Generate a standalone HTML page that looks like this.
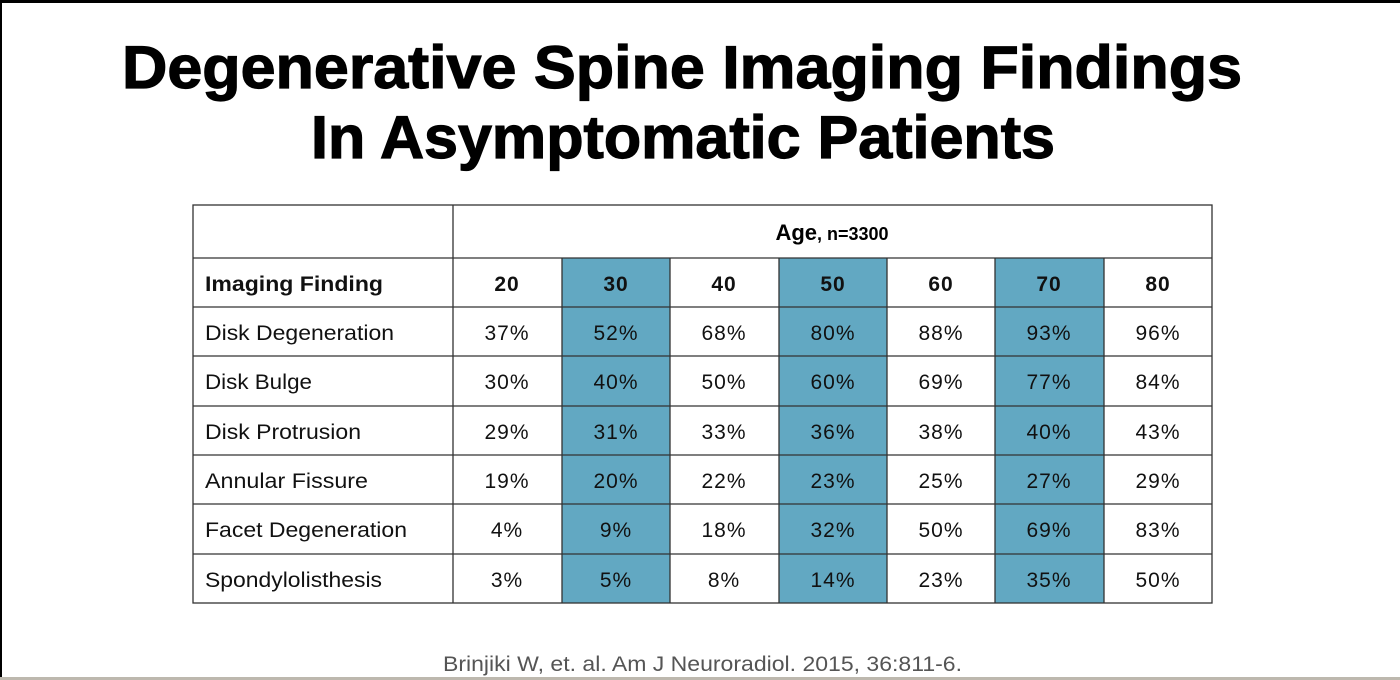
<!DOCTYPE html>
<html><head><meta charset="utf-8"><style>
html,body{margin:0;padding:0;background:#fff;}
svg{display:block;}
</style></head><body>
<svg width="1400" height="680" viewBox="0 0 1400 680" xmlns="http://www.w3.org/2000/svg" font-family="Liberation Sans, Arial, sans-serif">
<rect x="0" y="0" width="1400" height="680" fill="#fff"/>
<rect x="0" y="0" width="1400" height="3" fill="#000"/>
<rect x="0" y="0" width="2" height="680" fill="#000"/>
<rect x="0" y="677" width="1400" height="3" fill="#bdb8ae"/>
<text x="122" y="88" font-size="60" font-weight="bold" stroke="#000" stroke-width="1.2" textLength="1120" lengthAdjust="spacingAndGlyphs">Degenerative Spine Imaging Findings</text>
<text x="311" y="158" font-size="60" font-weight="bold" stroke="#000" stroke-width="1.2" textLength="744" lengthAdjust="spacingAndGlyphs">In Asymptomatic Patients</text>
<g fill="#62a8c2">
<rect x="562" y="258" width="108" height="345"/>
<rect x="779" y="258" width="108" height="345"/>
<rect x="995" y="258" width="109" height="345"/>
</g>
<g stroke="#333" stroke-width="1.3" fill="none">
<rect x="193" y="205" width="1019" height="398"/>
<line x1="193" y1="258" x2="1212" y2="258"/>
<line x1="193" y1="307" x2="1212" y2="307"/>
<line x1="193" y1="356" x2="1212" y2="356"/>
<line x1="193" y1="406" x2="1212" y2="406"/>
<line x1="193" y1="455" x2="1212" y2="455"/>
<line x1="193" y1="504" x2="1212" y2="504"/>
<line x1="193" y1="554" x2="1212" y2="554"/>
<line x1="453" y1="205" x2="453" y2="603"/>
<line x1="562" y1="258" x2="562" y2="603"/>
<line x1="670" y1="258" x2="670" y2="603"/>
<line x1="779" y1="258" x2="779" y2="603"/>
<line x1="887" y1="258" x2="887" y2="603"/>
<line x1="995" y1="258" x2="995" y2="603"/>
<line x1="1104" y1="258" x2="1104" y2="603"/>
</g>
<text x="832" y="240" font-size="22" font-weight="bold" text-anchor="middle">Age<tspan font-size="18">, n=3300</tspan></text>
<g font-size="21" fill="#111">
<text x="205" y="291" font-weight="bold" textLength="178" lengthAdjust="spacingAndGlyphs">Imaging Finding</text>
<text x="205" y="340" textLength="189" lengthAdjust="spacingAndGlyphs">Disk Degeneration</text>
<text x="205" y="389" textLength="107" lengthAdjust="spacingAndGlyphs">Disk Bulge</text>
<text x="205" y="439" textLength="156" lengthAdjust="spacingAndGlyphs">Disk Protrusion</text>
<text x="205" y="488" textLength="163" lengthAdjust="spacingAndGlyphs">Annular  Fissure</text>
<text x="205" y="537" textLength="202" lengthAdjust="spacingAndGlyphs">Facet Degeneration</text>
<text x="205" y="587" textLength="177" lengthAdjust="spacingAndGlyphs">Spondylolisthesis</text>
</g>
<g font-size="21" fill="#111" text-anchor="middle" letter-spacing="1">
<g font-weight="bold">
<text x="507" y="291">20</text><text x="616" y="291">30</text><text x="724" y="291">40</text><text x="833" y="291">50</text><text x="941" y="291">60</text><text x="1049" y="291">70</text><text x="1158" y="291">80</text>
</g>
<text x="507" y="340">37%</text><text x="616" y="340">52%</text><text x="724" y="340">68%</text><text x="833" y="340">80%</text><text x="941" y="340">88%</text><text x="1049" y="340">93%</text><text x="1158" y="340">96%</text>
<text x="507" y="389">30%</text><text x="616" y="389">40%</text><text x="724" y="389">50%</text><text x="833" y="389">60%</text><text x="941" y="389">69%</text><text x="1049" y="389">77%</text><text x="1158" y="389">84%</text>
<text x="507" y="439">29%</text><text x="616" y="439">31%</text><text x="724" y="439">33%</text><text x="833" y="439">36%</text><text x="941" y="439">38%</text><text x="1049" y="439">40%</text><text x="1158" y="439">43%</text>
<text x="507" y="488">19%</text><text x="616" y="488">20%</text><text x="724" y="488">22%</text><text x="833" y="488">23%</text><text x="941" y="488">25%</text><text x="1049" y="488">27%</text><text x="1158" y="488">29%</text>
<text x="507" y="537">4%</text><text x="616" y="537">9%</text><text x="724" y="537">18%</text><text x="833" y="537">32%</text><text x="941" y="537">50%</text><text x="1049" y="537">69%</text><text x="1158" y="537">83%</text>
<text x="507" y="587">3%</text><text x="616" y="587">5%</text><text x="724" y="587">8%</text><text x="833" y="587">14%</text><text x="941" y="587">23%</text><text x="1049" y="587">35%</text><text x="1158" y="587">50%</text>
</g>
<text x="443" y="671" font-size="21" fill="#555" textLength="519" lengthAdjust="spacingAndGlyphs">Brinjiki W, et. al. Am J Neuroradiol. 2015, 36:811-6.</text>
</svg>
</body></html>
